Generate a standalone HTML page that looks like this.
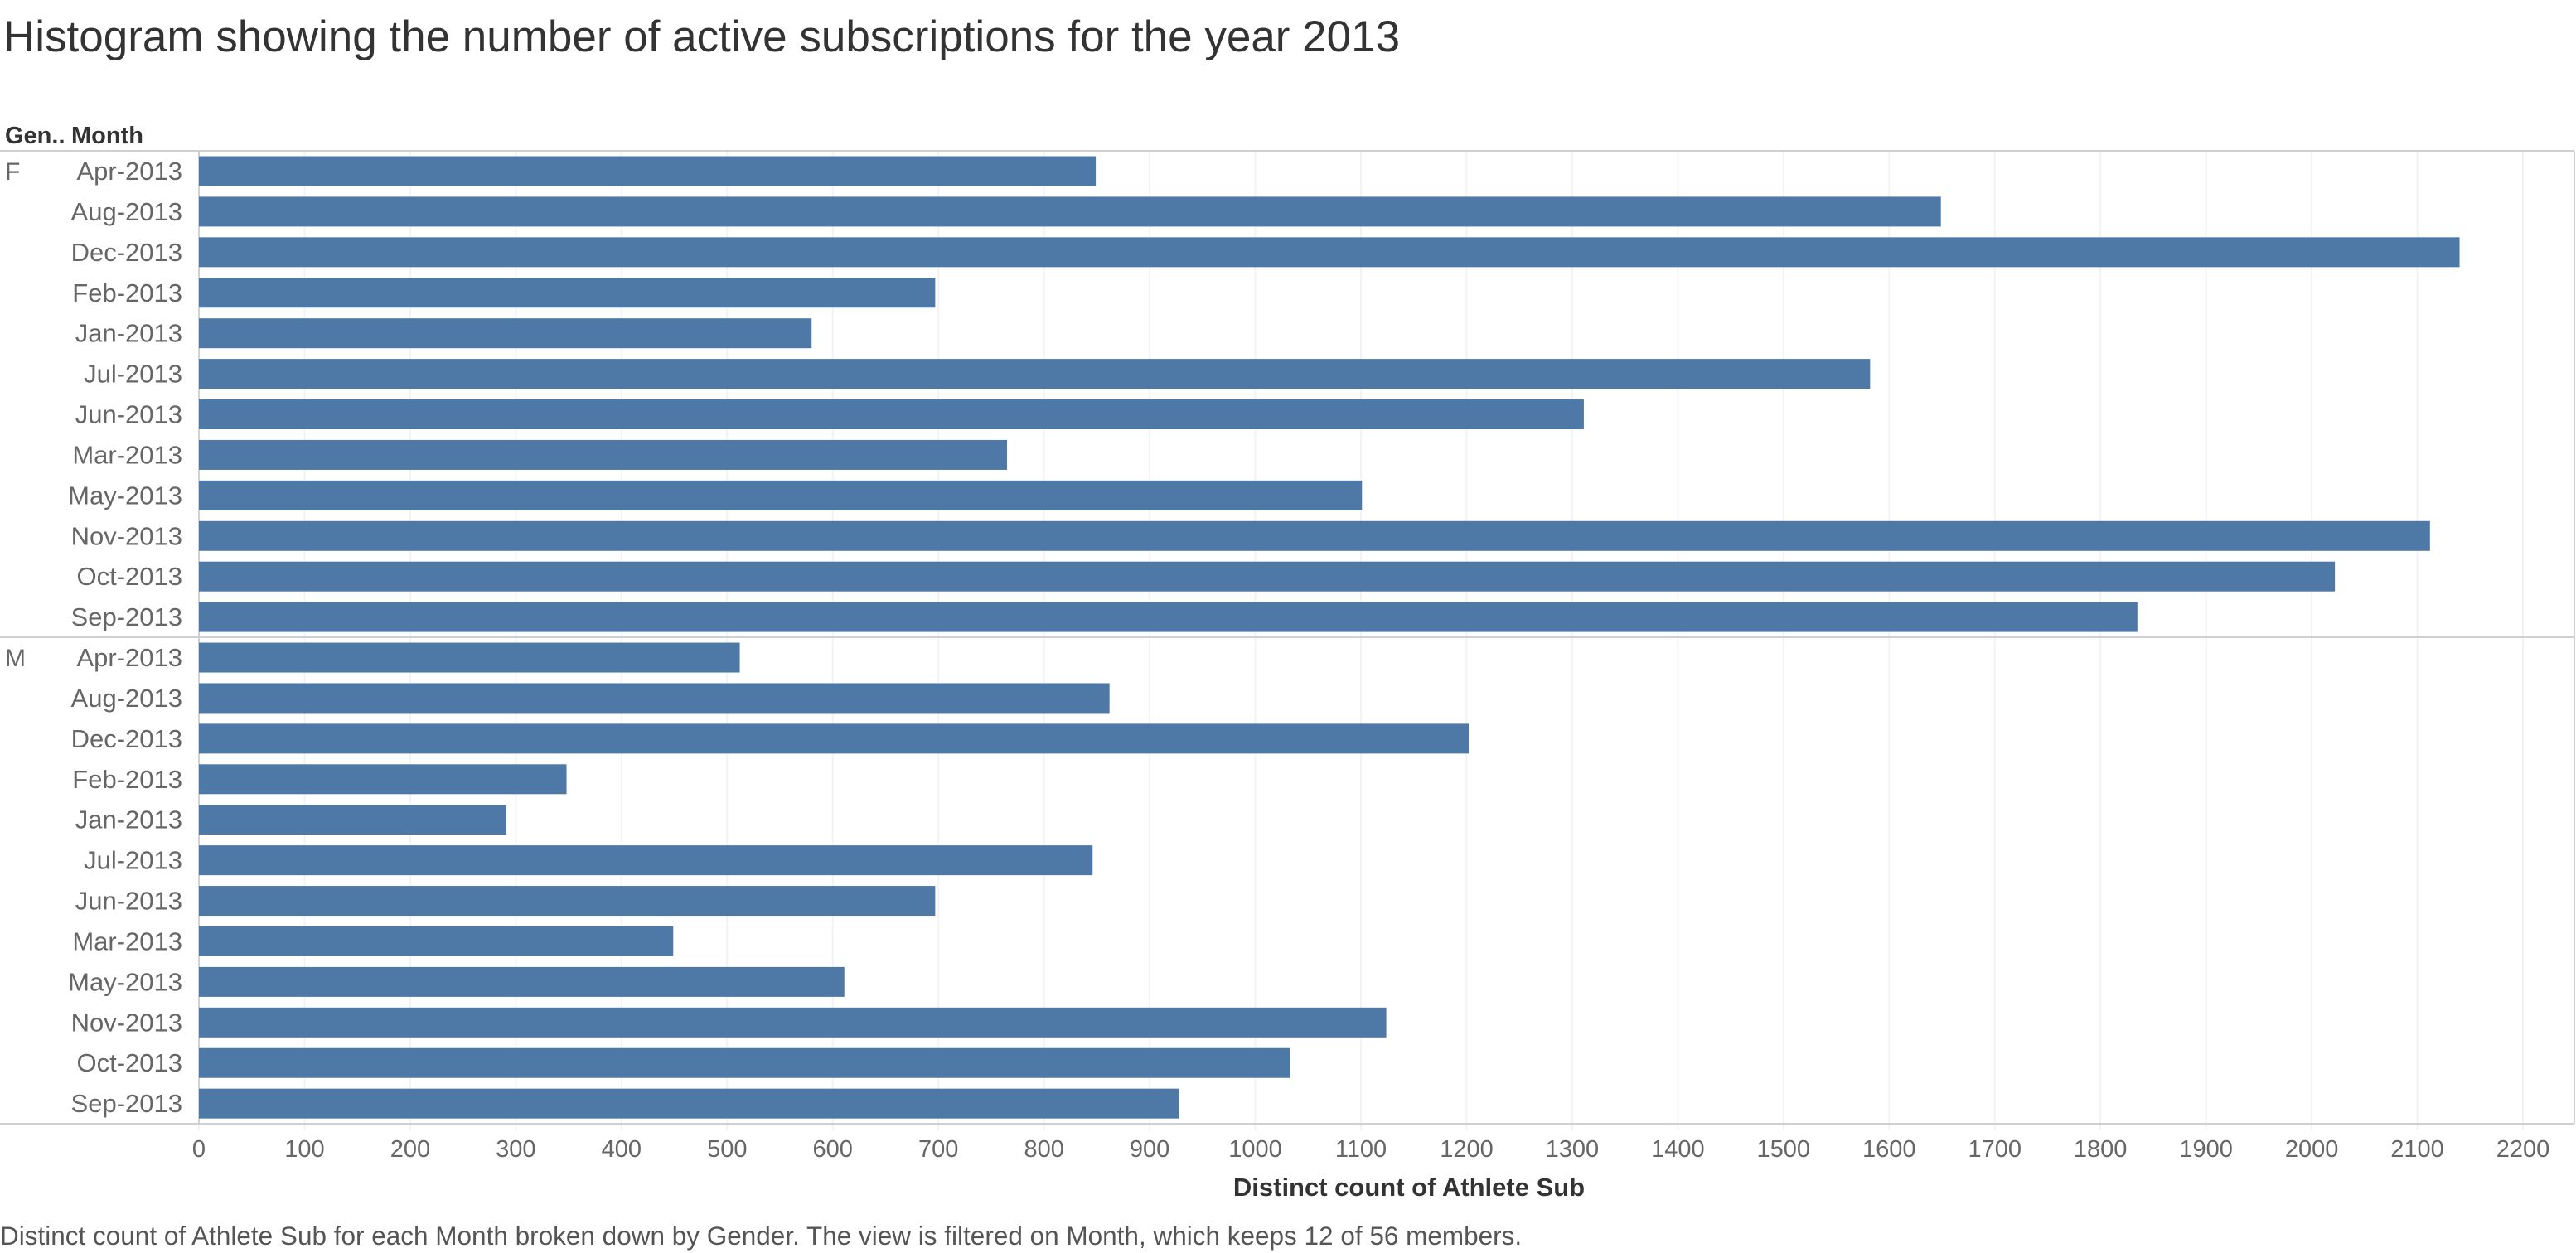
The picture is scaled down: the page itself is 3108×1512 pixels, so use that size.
<!DOCTYPE html>
<html><head><meta charset="utf-8"><style>
html,body{margin:0;padding:0;background:#fff;width:3108px;height:1512px;overflow:hidden}
svg text{font-family:"Liberation Sans",sans-serif}
</style></head><body>
<svg id="chart" width="3108" height="1512" xmlns="http://www.w3.org/2000/svg">
<text x="4" y="62" font-size="53" fill="#333">Histogram showing the number of active subscriptions for the year 2013</text>
<text x="6" y="173" font-size="29" font-weight="bold" fill="#333">Gen..</text>
<text x="86" y="173" font-size="29" font-weight="bold" fill="#333">Month</text>
<g id="grid"></g><g id="bars"></g><g id="labels"></g><g id="ticks"></g>
<text x="1700" y="1443" font-size="31" font-weight="bold" fill="#333" text-anchor="middle">Distinct count of Athlete Sub</text>
<text x="0" y="1502" font-size="31.5" fill="#555">Distinct count of Athlete Sub for each Month broken down by Gender. The view is filtered on Month, which keeps 12 of 56 members.</text>
</svg>
<script>
const genders = ["F","M"];
const months = ["Apr-2013","Aug-2013","Dec-2013","Feb-2013","Jan-2013","Jul-2013","Jun-2013","Mar-2013","May-2013","Nov-2013","Oct-2013","Sep-2013"];
const valuesF = [849,1649,2140,697,580,1582,1311,765,1101,2112,2022,1835];
const valuesM = [512,862,1202,348,291,846,697,449,611,1124,1033,928];
const ticks = [0,100,200,300,400,500,600,700,800,900,1000,1100,1200,1300,1400,1500,1600,1700,1800,1900,2000,2100,2200];

const NS="http://www.w3.org/2000/svg";
const X0=240, PX=(3044-240)/2200, TOP=182, ROW=48.92, BOTTOM=1356, RIGHT=3106;
const x=v=>X0+v*PX;
const y=i=>TOP+i*ROW;
function mk(tag,attrs,parent){const e=document.createElementNS(NS,tag);for(const k in attrs)e.setAttribute(k,attrs[k]);document.getElementById(parent).appendChild(e);return e;}

ticks.forEach(t=>{
  const g=mk('line',{x1:x(t),x2:x(t),y1:TOP,y2:BOTTOM+8,stroke:'#f3f3f3','stroke-width':2},'grid');
  
  
  const l=mk('text',{x:x(t),y:1396,'font-size':29,fill:'#666','text-anchor':'middle'},'ticks');
  l.textContent=t;
  
  
});
[[0,TOP,RIGHT,TOP],[0,y(12),RIGHT,y(12)],[0,BOTTOM,RIGHT,BOTTOM],[X0,TOP,X0,BOTTOM],[RIGHT,TOP,RIGHT,BOTTOM]].forEach(a=>{
  const l=mk('line',{x1:a[0],y1:a[1],x2:a[2],y2:a[3],stroke:'#d0d0d0','stroke-width':2},'grid');
  
  
});
const series=[valuesF,valuesM];
genders.forEach((g,gi)=>{
  const gl=mk('text',{x:6,y:y(gi*12)+35,'font-size':30,fill:'#666'},'labels');
  gl.textContent=g;
  
  
  months.forEach((m,mi)=>{
    const i=gi*12+mi;
    const r=mk('rect',{x:X0,y:y(i)+6.5,width:x(series[gi][mi])-X0,height:36,fill:'#4e79a7'},'bars');
    
    
    const t=mk('text',{x:220,y:y(i)+35,'font-size':31,fill:'#666','text-anchor':'end'},'labels');
    t.textContent=m;
    
    
  });
});
</script>
</body></html>
